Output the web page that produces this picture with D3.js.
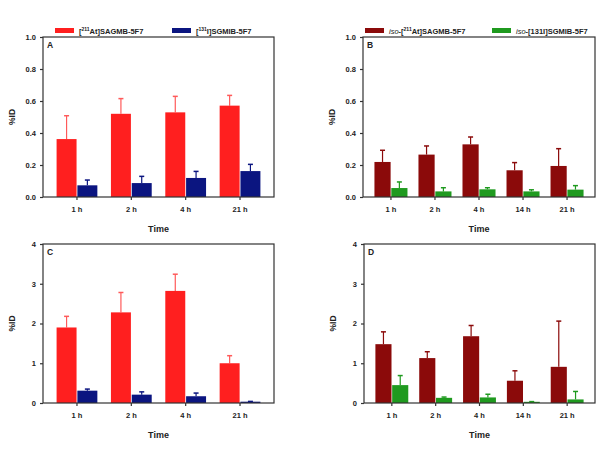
<!DOCTYPE html>
<html><head><meta charset="utf-8">
<script src="https://cdn.jsdelivr.net/npm/d3@7"></script>
<style>
body{margin:0;background:#fff;}
text{font-family:Arial,"Liberation Sans",sans-serif;font-weight:bold;fill:#222;}
</style></head>
<body><svg id="c" width="604" height="450"></svg>
<script>
// ---- data ----
const timesAC = ["1 h","2 h","4 h","21 h"];
const timesBD = ["1 h","2 h","4 h","14 h","21 h"];
const ticksAB = [0,0.2,0.4,0.6,0.8,1.0];
const ticksCD = [0,1,2,3,4];
// panel A
const aAt = [0.362,0.52,0.529,0.571];
const aAtErr = [0.146,0.095,0.10,0.064];
const aI = [0.073,0.087,0.119,0.162];
const aIErr = [0.033,0.042,0.041,0.042];
// panel B
const bAt = [0.219,0.265,0.329,0.167,0.194];
const bAtErr = [0.073,0.054,0.046,0.048,0.108];
const bI = [0.056,0.035,0.048,0.035,0.046];
const bIErr = [0.038,0.023,0.010,0.010,0.025];
// panel C
const cAt = [1.9,2.28,2.82,1.0];
const cAtErr = [0.28,0.50,0.42,0.19];
const cI = [0.31,0.21,0.17,0.033];
const cIErr = [0.04,0.07,0.08,0.007];
// panel D
const dAt = [1.48,1.13,1.68,0.56,0.91];
const dAtErr = [0.31,0.16,0.27,0.25,1.15];
const dI = [0.45,0.13,0.14,0.03,0.09];
const dIErr = [0.24,0.02,0.08,0.005,0.20];

const RED="#ff1f1f", BLUE="#0b1580", DRED="#8b0a0a", GREEN="#1f9a1f";

const svg = d3.select("#c");

function panel(o){
  const x = d3.scaleBand().domain(o.cats).range([o.x0,o.x1]).paddingInner(0.25).paddingOuter(o.po);
  const xs = d3.scaleBand().domain([0,1]).range([0,x.bandwidth()]).paddingInner(0.04);
  const y = d3.scaleLinear().domain([0,o.max]).range([o.y1,o.y0]);
  const g = svg.append("g");
  const series = [{v:o.s1,e:o.e1,c:o.c1,ec:o.ec1},{v:o.s2,e:o.e2,c:o.c2,ec:o.ec2}];
  series.forEach((s,si)=>{
    o.cats.forEach((cat,i)=>{
      const bx = x(cat)+xs(si), bw = xs.bandwidth();
      const top = s.v[i]+s.e[i];
      const cx = bx+bw/2;
      g.append("line").attr("x1",cx).attr("x2",cx).attr("y1",y(s.v[i])).attr("y2",y(top))
        .attr("stroke",s.ec).attr("stroke-width",1.2);
      g.append("line").attr("x1",cx-2.5).attr("x2",cx+2.5).attr("y1",y(top)).attr("y2",y(top))
        .attr("stroke",s.ec).attr("stroke-width",1.5);
      g.append("rect").attr("x",bx).attr("y",y(s.v[i])).attr("width",bw)
        .attr("height",y(0)-y(s.v[i])).attr("fill",s.c);
    });
  });
  // frame
  g.append("rect").attr("x",o.x0).attr("y",o.y0).attr("width",o.x1-o.x0).attr("height",o.y1-o.y0)
    .attr("fill","none").attr("stroke","#333").attr("stroke-width",1.2);
  // y axis
  const ya = g.append("g").attr("transform",`translate(${o.x0},0)`)
    .call(d3.axisLeft(y).tickValues(o.ticks).tickFormat(o.fmt).tickSize(3).tickPadding(4));
  ya.select(".domain").remove();
  ya.selectAll("line").attr("stroke","#333").attr("stroke-width",1.2);
  ya.selectAll("text").style("font-size","7.5px").style("font-family","Arial,'Liberation Sans',sans-serif").attr("fill","#222");
  // x axis
  const xa = g.append("g").attr("transform",`translate(0,${o.y1})`)
    .call(d3.axisBottom(x).tickSize(3).tickPadding(7));
  xa.select(".domain").remove();
  xa.selectAll("line").attr("stroke","#333").attr("stroke-width",1.2);
  xa.selectAll("text").style("font-size","7.5px").style("font-family","Arial,'Liberation Sans',sans-serif").attr("fill","#222");
  // labels
  g.append("text").attr("x",o.x0+4).attr("y",o.y0+11).style("font-size","8.5px").text(o.letter);
  g.append("text").attr("transform",`translate(${o.x0-28},${(o.y0+o.y1)/2}) rotate(-90)`)
    .attr("text-anchor","middle").style("font-size","8.5px").text("%ID");
  g.append("text").attr("x",(o.x0+o.x1)/2).attr("y",o.y1+35).attr("text-anchor","middle")
    .style("font-size","9px").text("Time");
}

panel({cats:timesAC,x0:43,x1:274,y0:37,y1:197,max:1,ticks:ticksAB,fmt:d3.format(".1f"),po:0.25,
  s1:aAt,e1:aAtErr,c1:RED,ec1:"#ff5a5a",s2:aI,e2:aIErr,c2:BLUE,ec2:BLUE,letter:"A"});
panel({cats:timesBD,x0:363,x1:595,y0:37,y1:197,max:1,ticks:ticksAB,fmt:d3.format(".1f"),po:0.26,
  s1:bAt,e1:bAtErr,c1:DRED,ec1:DRED,s2:bI,e2:bIErr,c2:GREEN,ec2:GREEN,letter:"B"});
panel({cats:timesAC,x0:43,x1:274,y0:244,y1:403,max:4,ticks:ticksCD,fmt:d3.format("d"),po:0.25,
  s1:cAt,e1:cAtErr,c1:RED,ec1:"#ff5a5a",s2:cI,e2:cIErr,c2:BLUE,ec2:BLUE,letter:"C"});
panel({cats:timesBD,x0:364,x1:595,y0:244,y1:403,max:4,ticks:ticksCD,fmt:d3.format("d"),po:0.26,
  s1:dAt,e1:dAtErr,c1:DRED,ec1:DRED,s2:dI,e2:dIErr,c2:GREEN,ec2:GREEN,letter:"D"});

// legends
function legend(x,y,color,parts){
  svg.append("rect").attr("x",x).attr("y",y-3).attr("width",19).attr("height",5).attr("fill",color);
  const t = svg.append("text").attr("x",x+24).attr("y",y+2.5).style("font-size","7.5px");
  parts.forEach(p=>{
    const ts = t.append("tspan").text(p.t);
    if(p.i) ts.style("font-style","italic").style("font-weight","normal");
    if(p.sup) ts.attr("dy",-3).style("font-size","5px");
    if(p.down) ts.attr("dy",3);
  });
}
legend(55,31,RED,[{t:"["},{t:"211",sup:true},{t:"At]SAGMB-5F7",down:true}]);
legend(172,31,BLUE,[{t:"["},{t:"131",sup:true},{t:"I]SGMIB-5F7",down:true}]);
legend(365,31,DRED,[{t:"iso",i:true},{t:"-["},{t:"211",sup:true},{t:"At]SAGMB-5F7",down:true}]);
legend(492,31,GREEN,[{t:"iso",i:true},{t:"-[131I]SGMIB-5F7"}]);
</script></body></html>
